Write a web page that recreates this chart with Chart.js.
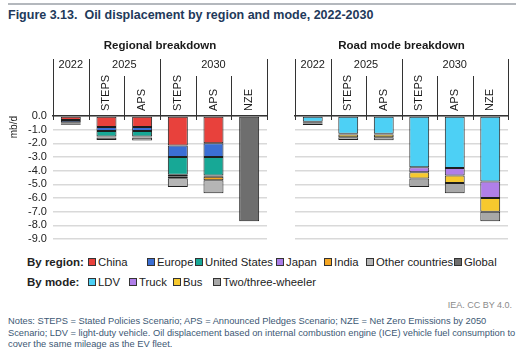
<!DOCTYPE html>
<html lang="en">
<head>
  <meta charset="UTF-8">
  <title>Oil displacement by region and mode, 2022-2030</title>
  <script src="https://cdn.jsdelivr.net/npm/chart.js"></script>
  <style>
    body { margin: 0; width: 530px; height: 361px; background: #fff; font-family: Arial, "Liberation Sans", sans-serif; position: relative; overflow: hidden; }
    .topline { position: absolute; left: 8px; top: 3px; width: 508px; height: 2px; background: #b4b8bd; }
    .title { position: absolute; left: 8px; top: 8px; font-size: 12.5px; font-weight: bold; color: #22395a; }
    .panel { position: absolute; top: 30px; height: 225px; }
    .legrow { position: absolute; left: 0; font-size: 11.3px; color: #222; white-space: nowrap; }
    .legrow b { position: absolute; left: 27px; font-size: 11.5px; }
    .item { position: absolute; }
    .sq { display: inline-block; width: 6px; height: 6px; border: 1px solid #333; margin-right: 2px; vertical-align: 0px; }
    .credit { position: absolute; right: 18px; top: 300px; font-size: 9px; color: #8a8a8a; }
    .notes { position: absolute; left: 8px; top: 316px; width: 512px; font-size: 9.3px; line-height: 11.5px; color: #3d5874; }
  </style>
</head>
<body>
  <div class="topline"></div>
  <div class="title">Figure 3.13.&nbsp; Oil displacement by region and mode, 2022-2030</div>

  <div class="panel" style="left:0; width:270px;"><canvas id="regionChart"></canvas></div>
  <div class="panel" style="left:270px; width:260px;"><canvas id="modeChart"></canvas></div>

  <div class="legrow" style="top:256px;">
    <b>By region:</b>
    <span class="item" style="left:88px"><span class="sq" style="background:#e8413c"></span>China</span>
    <span class="item" style="left:147px"><span class="sq" style="background:#3b6fd4"></span>Europe</span>
    <span class="item" style="left:195px"><span class="sq" style="background:#17a896"></span>United States</span>
    <span class="item" style="left:276px"><span class="sq" style="background:#a97de8"></span>Japan</span>
    <span class="item" style="left:324px"><span class="sq" style="background:#f5a623"></span>India</span>
    <span class="item" style="left:366px"><span class="sq" style="background:#b5b5b5"></span>Other countries</span>
    <span class="item" style="left:454px"><span class="sq" style="background:#6e6e6e"></span>Global</span>
  </div>
  <div class="legrow" style="top:276px;">
    <b>By mode:</b>
    <span class="item" style="left:88px"><span class="sq" style="background:#4dd0f5"></span>LDV</span>
    <span class="item" style="left:129px"><span class="sq" style="background:#b07fe9"></span>Truck</span>
    <span class="item" style="left:173px"><span class="sq" style="background:#f7c92e"></span>Bus</span>
    <span class="item" style="left:213px"><span class="sq" style="background:#a8a8a8"></span>Two/three-wheeler</span>
  </div>

  <div class="credit">IEA. CC BY 4.0.</div>
  <div class="notes">Notes: STEPS = Stated Policies Scenario; APS = Announced Pledges Scenario; NZE = Net Zero Emissions by 2050 Scenario; LDV = light-duty vehicle. Oil displacement based on internal combustion engine (ICE) vehicle fuel consumption to cover the same mileage as the EV fleet.</div>

  <script>
    // categories: 2022 | 2025 STEPS, APS | 2030 STEPS, APS, NZE
    const categories = ['2022', '2025 STEPS', '2025 APS', '2030 STEPS', '2030 APS', '2030 NZE'];
    const scenarios = ['', 'STEPS', 'APS', 'STEPS', 'APS', 'NZE'];
    const years = ['2022', '2025', '2030'];
    const yearGroups = [1, 2, 3]; // number of categories under each year
    const yTicks = [0, -1, -2, -3, -4, -5, -6, -7, -8, -9];

    // regional breakdown (mb/d)
    const china  = [-0.30, -0.80, -0.80, -2.15, -2.00, null];
    const europe = [-0.15, -0.30, -0.30, -0.85, -1.00, null];
    const usa    = [-0.10, -0.40, -0.40, -1.30, -1.35, null];
    const japan  = [-0.03, -0.05, -0.05, -0.10, -0.10, null];
    const india  = [-0.02, -0.05, -0.05, -0.15, -0.25, null];
    const others = [-0.05, -0.15, -0.20, -0.65, -0.95, null];
    const globalNze = [null, null, null, null, null, -7.70];

    // road mode breakdown (mb/d)
    const ldv   = [-0.42, -1.30, -1.30, -3.75, -3.80, -4.80];
    const truck = [-0.08, -0.05, -0.05, -0.37, -0.55, -1.20];
    const bus   = [-0.05, -0.20, -0.20, -0.45, -0.55, -1.00];
    const twoThree = [-0.10, -0.20, -0.22, -0.63, -0.75, -0.70];

    const headerPlugin = {
      id: 'header',
      afterDraw(chart, args, opts) {
        const ctx = chart.ctx;
        const xs = chart.scales.x;
        const area = chart.chartArea;
        const axisY = area.top;
        const outerTop = axisY - 57;
        const innerTop = axisY - 40;
        ctx.save();
        ctx.strokeStyle = '#333';
        ctx.lineWidth = 1;
        ctx.fillStyle = '#1a1a1a';

        // panel subtitle
        ctx.font = 'bold 11.5px Arial';
        ctx.textAlign = 'center';
        ctx.textBaseline = 'middle';
        ctx.fillText(opts.subtitle, (area.left + area.right) / 2, axisY - 70);

        // boundaries
        let idx = 0;
        const bounds = [0];
        yearGroups.forEach(n => { idx += n; bounds.push(idx); });
        for (let i = 0; i <= categories.length; i++) {
          const x = Math.round(xs.getPixelForValue(i - 0.5)) + 0.5;
          const outer = bounds.includes(i);
          ctx.beginPath();
          ctx.moveTo(x, outer ? outerTop : innerTop);
          ctx.lineTo(x, axisY + 4);
          ctx.stroke();
        }

        // year labels
        ctx.font = '11px Arial';
        for (let g = 0; g < years.length; g++) {
          const cx = (xs.getPixelForValue(bounds[g] - 0.5) + xs.getPixelForValue(bounds[g + 1] - 0.5)) / 2;
          ctx.fillText(years[g], cx, outerTop + 6);
        }

        // scenario labels, rotated
        ctx.textAlign = 'left';
        for (let i = 0; i < scenarios.length; i++) {
          if (!scenarios[i]) continue;
          const cx = xs.getPixelForValue(i);
          ctx.save();
          ctx.translate(cx, axisY - 5);
          ctx.rotate(-Math.PI / 2);
          ctx.fillText(scenarios[i], 0, 0);
          ctx.restore();
        }
        ctx.restore();
      }
    };

    function makeDataset(label, data, color) {
      return {
        label: label,
        data: data,
        backgroundColor: color,
        borderColor: '#1e1e1e',
        borderWidth: 1,
        borderSkipped: false,
        categoryPercentage: 1.0,
        barPercentage: 0.56
      };
    }

    function baseOptions(subtitle, showTicks, padding) {
      return {
        responsive: true,
        maintainAspectRatio: false,
        animation: false,
        layout: { padding: padding },
        plugins: {
          legend: { display: false },
          tooltip: { enabled: false },
          header: { subtitle: subtitle }
        },
        scales: {
          x: {
            stacked: true,
            position: 'top',
            ticks: { display: false },
            grid: { display: false },
            border: { color: '#333', width: 1.5 }
          },
          y: {
            stacked: true,
            min: -9,
            max: 0,
            afterBuildTicks(axis) { axis.ticks = yTicks.map(v => ({ value: v })); },
            ticks: {
              display: showTicks,
              autoSkip: false,
              color: '#222',
              font: { family: 'Arial', size: 11 },
              padding: 6,
              callback: v => v.toFixed(1)
            },
            grid: { color: '#d9d9d9', lineWidth: 1.5, drawTicks: false },
            border: { display: false },
            title: { display: showTicks, text: 'mb/d', align: 'end', color: '#222', font: { family: 'Arial', size: 10 }, padding: 2 }
          }
        }
      };
    }

    new Chart(document.getElementById('regionChart'), {
      type: 'bar',
      data: {
        labels: categories,
        datasets: [
          makeDataset('China', china, '#e8413c'),
          makeDataset('Europe', europe, '#3b6fd4'),
          makeDataset('United States', usa, '#17a896'),
          makeDataset('Japan', japan, '#a97de8'),
          makeDataset('India', india, '#f5a623'),
          makeDataset('Other countries', others, '#b5b5b5'),
          makeDataset('Global', globalNze, '#6e6e6e')
        ]
      },
      options: baseOptions('Regional breakdown', true, { top: 78, bottom: 16, left: 6, right: 3 }),
      plugins: [headerPlugin]
    });

    new Chart(document.getElementById('modeChart'), {
      type: 'bar',
      data: {
        labels: categories,
        datasets: [
          makeDataset('LDV', ldv, '#4dd0f5'),
          makeDataset('Truck', truck, '#b07fe9'),
          makeDataset('Bus', bus, '#f7c92e'),
          makeDataset('Two/three-wheeler', twoThree, '#a8a8a8')
        ]
      },
      options: baseOptions('Road mode breakdown', false, { top: 78, bottom: 16, left: 25, right: 22 }),
      plugins: [headerPlugin]
    });
  </script>
</body>
</html>
